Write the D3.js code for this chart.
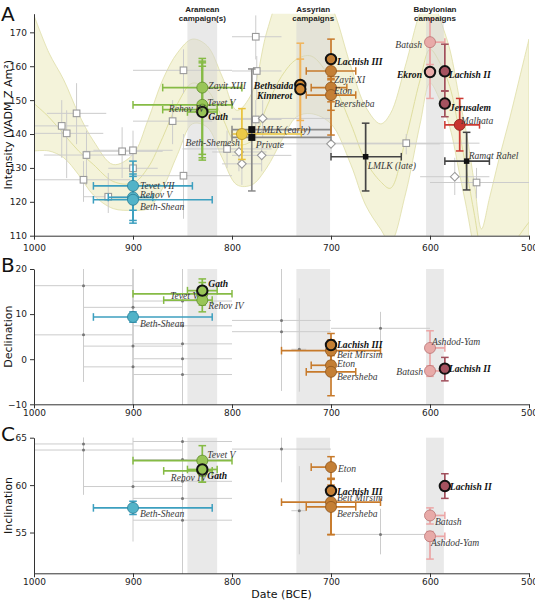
<!DOCTYPE html>
<html><head><meta charset="utf-8">
<script src="https://cdn.jsdelivr.net/npm/d3@7"></script>
<style>body{margin:0;background:#fff}</style>
</head><body>
<svg id="c" width="535" height="600" xmlns="http://www.w3.org/2000/svg"></svg>
<script>
// ---------------- DATA ----------------
const xTicks = [1000, 900, 800, 700, 600, 500];
const yTicksA = [110, 120, 130, 140, 150, 160, 170];
const yTicksB = [-10, 0, 10, 20];
const yTicksC = [55, 60, 65];

const campaigns = [
  {name: ["Aramean", "campaign(s)"], start: 845, end: 815},
  {name: ["Assyrian", "campaigns"], start: 735, end: 701},
  {name: ["Babylonian", "campaigns"], start: 604, end: 586}
];

// Intensity curve (band)
const bandYears = [1000, 985, 970, 955, 940, 920, 900, 885, 870, 855, 840, 825, 810, 795, 780, 765, 750, 735, 720, 700, 680, 665, 650, 640, 625, 610, 600, 590, 580, 570, 563, 555, 548, 540, 530, 520, 510, 500];
const bandUpper = [175, 164, 156, 146, 138, 131, 134, 144, 156, 164, 168, 166, 157, 147, 152, 170, 182, 186, 186, 178, 160, 148, 143, 146, 160, 176, 182, 174, 165, 150, 140, 125, 112, 121, 133, 144, 156, 168];
const bandMean  = [149, 145, 140, 135, 131, 126, 125.5, 130, 139, 149, 155, 153, 145, 137, 138, 148, 157, 162, 163, 156, 143, 132, 126, 124, 138, 156, 165, 161, 154, 140, 129, 116, 105, 100, 101, 105, 110, 114];
const bandLower = [135, 135, 133, 128, 122, 118, 117.5, 118, 124, 134, 143, 142, 133, 125, 125, 130, 138, 145, 146, 143, 131, 119, 112, 108, 122, 143, 155, 150, 142, 128, 118, 105, 95, 88, 83, 81, 82, 85];

// Intensity data (site, group, year, value, date range, value range)
const intensityPts = [
  {site: "Tevet VII", g: "teal", year: 900, v: 124.7, x0: 940, x1: 840, y0: 117.5, y1: 132},
  {site: "Rehov V", g: "teal", year: 900, v: 121.3, x0: 925, x1: 880, y0: 114.5, y1: 128.2},
  {site: "Beth-Shean", g: "teal", year: 900, v: 120.6, x0: 940, x1: 820, y0: 113.7, y1: 127.5},
  {site: "Zayit XIII", g: "green", year: 830, v: 153.7, x0: 870, x1: 790, y0: 145.5, y1: 162.3},
  {site: "Tevet V", g: "green", year: 830, v: 148.6, x0: 900, x1: 800, y0: 134, y1: 161.5},
  {site: "Rehov IV", g: "green", year: 830, v: 147.2, x0: 870, x1: 815, y0: 133, y1: 161},
  {site: "Gath", g: "green", year: 830, v: 146.5, x0: 845, x1: 815, y0: 132.3, y1: 160, bold: true},
  {site: "Beth-Shemesh", g: "yellow", year: 790, v: 140, x0: 800, x1: 730, y0: 132.5, y1: 147.5},
  {site: "LMLK (early)", g: "lmlk", year: 780, v: 141.3, x0: 800, x1: 700, y0: 123.2, y1: 159.2},
  {site: "Private", g: "lmlk", year: 780, v: 139, x0: 800, x1: 700},
  {site: "Bethsaida", g: "orangeLight", year: 731, v: 154.5, y0: 144, y1: 166.8, bold: true},
  {site: "Kinnerot", g: "orangeLight", year: 731, v: 153.2, y0: 141.2, y1: 162.1, bold: true},
  {site: "Lachish III", g: "orange", year: 700, v: 162.1, y0: 139.7, y1: 168, bold: true},
  {site: "Zayit XI", g: "orange", year: 700, v: 158.6, x0: 725, x1: 675, y0: 156.4, y1: 160.8},
  {site: "Eton", g: "orange", year: 700, v: 153.7, x0: 720, x1: 684, y0: 149.5, y1: 157},
  {site: "Beersheba", g: "orange", year: 700, v: 151.5, x0: 725, x1: 675, y0: 147, y1: 156},
  {site: "LMLK (late)", g: "black", year: 665, v: 133.3, x0: 700, x1: 629, y0: 123.2, y1: 143.2},
  {site: "Batash", g: "pink", year: 600, v: 167.1, x0: 600, x1: 585, y0: 160.5, y1: 174},
  {site: "Ekron", g: "pink", year: 600, v: 158.3, y0: 150.5, y1: 166, bold: true},
  {site: "Lachish II", g: "mauve", year: 585, v: 158.5, y0: 152.7, y1: 166.5, bold: true},
  {site: "Jerusalem", g: "mauve", year: 585, v: 149, y0: 145.1, y1: 152.7, bold: true},
  {site: "Malhata", g: "red", year: 570, v: 142.7, x0: 585, x1: 550, y0: 135, y1: 150.5},
  {site: "Ramat Rahel", g: "black", year: 563, v: 132, x0: 585, x1: 540, y0: 123.5, y1: 140.5}
];

const declinationPts = [
  {site: "Tevet V", g: "green", year: 830, v: 14.5, x0: 900, x1: 800, y0: 12, y1: 17},
  {site: "Rehov IV", g: "green", year: 830, v: 13.1, x0: 869, x1: 820, y0: 10.5, y1: 15.7},
  {site: "Gath", g: "green", year: 830, v: 15.2, x0: 845, x1: 815, y0: 12.5, y1: 17.8, bold: true},
  {site: "Beth-Shean", g: "teal", year: 900, v: 9.36, x0: 940, x1: 820, y0: 8.2, y1: 10.5},
  {site: "Beit Mirsim", g: "orange", year: 700, v: 1.9, x0: 750, x1: 650, y0: -0.5, y1: 4.3},
  {site: "Eton", g: "orange", year: 700, v: -1.35, x0: 720, x1: 700, y0: -3.5, y1: 0.8},
  {site: "Beersheba", g: "orange", year: 700, v: -2.8, x0: 725, x1: 675, y0: -8.1, y1: 2.5},
  {site: "Lachish III", g: "orange", year: 700, v: 3.15, y0: 1.5, y1: 5.7, bold: true},
  {site: "Ashdod-Yam", g: "pink", year: 600, v: 2.5, x0: 600, x1: 585, y0: -1.9, y1: 6.3},
  {site: "Batash", g: "pink", year: 600, v: -2.6, x0: 600, x1: 585, y0: -3.8, y1: -1.5},
  {site: "Lachish II", g: "mauve", year: 585, v: -2.1, y0: -4.8, y1: 0.4, bold: true}
];

const inclinationPts = [
  {site: "Tevet V", g: "green", year: 830, v: 62.58, x0: 900, x1: 800, y0: 61, y1: 64.16},
  {site: "Rehov IV", g: "green", year: 830, v: 61.5, x0: 869, x1: 820, y0: 60.3, y1: 62.8},
  {site: "Gath", g: "green", year: 830, v: 61.65, x0: 845, x1: 815, y0: 60.3, y1: 63, bold: true},
  {site: "Beth-Shean", g: "teal", year: 900, v: 57.6, x0: 940, x1: 820, y0: 56.9, y1: 58.3},
  {site: "Eton", g: "orange", year: 700, v: 61.9, x0: 720, x1: 700, y0: 60.7, y1: 63.0},
  {site: "Beit Mirsim", g: "orange", year: 700, v: 58.2, x0: 750, x1: 650, y0: 54.8, y1: 60.0},
  {site: "Beersheba", g: "orange", year: 700, v: 57.7, x0: 725, x1: 675, y0: 54.76, y1: 60.7},
  {site: "Lachish III", g: "orange", year: 700, v: 59.4, y0: 58.2, y1: 60.6, bold: true},
  {site: "Lachish II", g: "mauve", year: 585, v: 59.9, y0: 58.6, y1: 61.2, bold: true},
  {site: "Batash", g: "pink", year: 600, v: 56.8, x0: 600, x1: 585, y0: 55.9, y1: 57.6},
  {site: "Ashdod-Yam", g: "pink", year: 600, v: 54.6, x0: 600, x1: 585, y0: 52.2, y1: 55.1}
];

// comparison (grey) data
const refIntensity = [
  {type: "s", year: 957, v: 146.1, x0: 987, x1: 927, y0: 137, y1: 155},
  {type: "s", year: 972, v: 142.4, x0: 1000, x1: 945, y0: 133, y1: 150},
  {type: "s", year: 967, v: 140.2, x0: 1000, x1: 930, y0: 127, y1: 147},
  {type: "s", year: 947, v: 133.8, x0: 990, x1: 900, y0: 125, y1: 141},
  {type: "s", year: 950, v: 126.5, x0: 1000, x1: 903, y0: 120, y1: 132},
  {type: "s", year: 925, v: 121.5, x0: 950, x1: 880, y0: 116.7, y1: 128.5},
  {type: "s", year: 911, v: 134.9, x0: 950, x1: 870, y0: 127, y1: 142},
  {type: "s", year: 900, v: 135.2, x0: 940, x1: 860, y0: 128, y1: 141},
  {type: "s", year: 900, v: 129.9, x0: 925, x1: 875, y0: 124, y1: 135},
  {type: "s", year: 849, v: 158.8, x0: 900, x1: 800, y0: 152, y1: 165},
  {type: "s", year: 849, v: 127.7, x0: 900, x1: 800, y0: 115, y1: 140},
  {type: "s", year: 860, v: 143.8, x0: 900, x1: 820, y0: 137, y1: 150},
  {type: "s", year: 776, v: 168.7, x0: 800, x1: 750, y0: 162, y1: 175},
  {type: "s", year: 775, v: 158.6, x0: 800, x1: 750, y0: 150, y1: 163},
  {type: "s", year: 776, v: 144.3, x0: 800, x1: 750, y0: 138, y1: 150},
  {type: "s", year: 805, v: 135.6, x0: 850, x1: 760, y0: 130, y1: 141},
  {type: "d", year: 769, v: 144.6, x0: 800, x1: 700, y0: 139, y1: 150},
  {type: "d", year: 793, v: 134.7, x0: 820, x1: 765, y0: 129, y1: 140},
  {type: "d", year: 790, v: 131.2, x0: 810, x1: 770, y0: 125, y1: 137},
  {type: "d", year: 770, v: 133.7, x0: 800, x1: 740, y0: 129, y1: 138},
  {type: "d", year: 700, v: 137.1, x0: 775, x1: 590, y0: 134, y1: 140},
  {type: "s", year: 624, v: 137.3, x0: 700, x1: 550, y0: 134, y1: 140},
  {type: "d", year: 575, v: 127.4, x0: 610, x1: 540, y0: 122, y1: 133},
  {type: "s", year: 553, v: 125.7, x0: 600, x1: 500, y0: 121, y1: 130}
];

const refDeclination = [
  {year: 950, v: 16.3, x0: 1000, x1: 900, y0: -5, y1: 20},
  {year: 950, v: 5.4, x0: 1000, x1: 900, y0: -5, y1: 20},
  {year: 900, v: 11.5, x0: 950, x1: 850, y0: -10, y1: 20},
  {year: 900, v: 2.9, x0: 950, x1: 850, y0: -10, y1: 20},
  {year: 900, v: -1.7, x0: 950, x1: 850, y0: -10, y1: 20},
  {year: 850, v: 12.9, x0: 900, x1: 800, y0: -10, y1: 20},
  {year: 850, v: 7.4, x0: 900, x1: 800, y0: -10, y1: 20},
  {year: 850, v: 3.4, x0: 900, x1: 800, y0: -10, y1: 20},
  {year: 850, v: 0.1, x0: 900, x1: 800, y0: -10, y1: 20},
  {year: 850, v: -3.4, x0: 900, x1: 800, y0: -10, y1: 20},
  {year: 750, v: 8.6, x0: 800, x1: 700, y0: -7, y1: 20},
  {year: 750, v: 6.1, x0: 800, x1: 700, y0: -7, y1: 20},
  {year: 650, v: 6.85, x0: 700, x1: 600, y0: 2.8, y1: 10.5},
  {year: 732, v: 2.2, x0: 740, x1: 725, y0: -7.2, y1: 13.5}
];

const refInclination = [
  {year: 950, v: 64.34, x0: 1000, x1: 900, y0: 59, y1: 65},
  {year: 950, v: 63.7, x0: 1000, x1: 850, y0: 59, y1: 65},
  {year: 900, v: 59.85, x0: 950, x1: 850, y0: 54.05, y1: 65},
  {year: 850, v: 64.6, x0: 900, x1: 800, y0: 50.7, y1: 65},
  {year: 850, v: 62.7, x0: 900, x1: 800, y0: 50.7, y1: 65},
  {year: 850, v: 60.4, x0: 900, x1: 800, y0: 50.7, y1: 65},
  {year: 850, v: 58.6, x0: 900, x1: 800, y0: 50.7, y1: 65},
  {year: 850, v: 56.3, x0: 900, x1: 800, y0: 50.7, y1: 65},
  {year: 750, v: 63.8, x0: 800, x1: 700, y0: 60.3, y1: 65},
  {year: 732, v: 57.3, x0: 740, x1: 725, y0: 52.7, y1: 62},
  {year: 650, v: 54.8, x0: 700, x1: 600, y0: 52.7, y1: 57.5}
];

// ---------------- STYLE ----------------
const colors = {
  teal:        {fill: "#52b3c8", line: "#3c9fbf", stroke: "#2a7d96"},
  green:       {fill: "#99c557", line: "#86bb45", stroke: "#5d8a2a"},
  yellow:      {fill: "#ecca48", line: "#e8c23a", stroke: "#b8941e"},
  lmlk:        {fill: "#111111", line: "#8a8a8a", stroke: "#111"},
  black:       {fill: "#111111", line: "#444444", stroke: "#111"},
  orange:      {fill: "#c47f35", line: "#c77a2b", stroke: "#8e561e"},
  orangeLight: {fill: "#d08a35", line: "#f0b45a", stroke: "#111"},
  pink:        {fill: "#e8aaa8", line: "#eba5a5", stroke: "#b97474"},
  mauve:       {fill: "#a5525f", line: "#a14f5c", stroke: "#6d2e38"},
  red:         {fill: "#c8342f", line: "#cc3a33", stroke: "#8a1f1b"}
};

const labelA = {
  "Tevet VII": [7, 3, "start"], "Rehov V": [7, 1, "start"], "Beth-Shean": [7, 10, "start"],
  "Zayit XIII": [6, 1, "start"], "Tevet V": [5, 1, "start"], "Rehov IV": [2, 2, "end"],
  "Gath": [6, 8, "start"], "Beth-Shemesh": [-2, 12, "end"], "LMLK (early)": [5, 3, "start"],
  "Private": [4, 11, "start"], "Bethsaida": [-7, 4, "end"], "Kinnerot": [-8, 10, "end"],
  "Lachish III": [6, 6, "start"], "Zayit XI": [3, 12, "start"], "Eton": [3, 6, "start"],
  "Beersheba": [3, 12, "start"], "LMLK (late)": [2, 12, "start"], "Batash": [-8, 6, "end"],
  "Ekron": [-8, 6, "end"], "Lachish II": [4, 7, "start"], "Jerusalem": [5, 7, "start"],
  "Malhata": [1, -1, "start"], "Ramat Rahel": [2, -2, "start"]
};
const labelB = {
  "Gath": [6, -4, "start"], "Tevet V": [-4, 5, "end"], "Rehov IV": [6, 9, "start"],
  "Beth-Shean": [7, 10, "start"], "Lachish III": [6, 3, "start"], "Beit Mirsim": [6, 7, "start"],
  "Eton": [6, 2, "start"], "Beersheba": [6, 8, "start"], "Ashdod-Yam": [2, -3, "start"],
  "Batash": [-7, 4, "end"], "Lachish II": [4, 3, "start"]
};
const labelC = {
  "Tevet V": [5, -3, "start"], "Rehov IV": [4, 10, "end"], "Gath": [5, 10, "start"],
  "Beth-Shean": [7, 9, "start"], "Eton": [7, 5, "start"], "Lachish III": [6, 4, "start"],
  "Beit Mirsim": [6, -1, "start"], "Beersheba": [6, 10, "start"], "Lachish II": [5, 4, "start"],
  "Batash": [5, 10, "start"], "Ashdod-Yam": [1, 10, "start"]
};

// ---------------- DRAW ----------------
const svg = d3.select("#c");
const x = d3.scaleLinear().domain([1000, 500]).range([34, 529]);

const panels = [
  {key: "A", y: d3.scaleLinear().domain([110, 175.5]).range([235.7, 13.7]), ticks: yTicksA, minor: 2,
   title: "Intensity (VADM Z Am²)", pts: intensityPts, refs: refIntensity, labels: labelA,
   shadeTop: 21, letterY: 21, tickLabelDy: 15},
  {key: "B", y: d3.scaleLinear().domain([-10, 20]).range([404.3, 269]), ticks: yTicksB, minor: 2,
   title: "Declination", pts: declinationPts, refs: refDeclination, labels: labelB,
   shadeTop: 269, letterY: 272, tickLabelDy: 12},
  {key: "C", y: d3.scaleLinear().domain([50.7, 65]).range([573.3, 437.7]), ticks: yTicksC, minor: 1,
   title: "Inclination", pts: inclinationPts, refs: refInclination, labels: labelC,
   shadeTop: 437.7, letterY: 441, tickLabelDy: 12}
];

svg.append("defs").append("clipPath").attr("id", "clipA")
  .append("rect").attr("x", 34).attr("y", 13.7).attr("width", 495).attr("height", 222);

panels.forEach(p => {
  const y = p.y;
  const g = svg.append("g");
  const yBottom = y.range()[0];

  // band (panel A)
  if (p.key === "A") {
    const bd = bandYears.map((yr, i) => ({yr, lo: bandLower[i], hi: bandUpper[i], m: bandMean[i]}));
    const cg = g.append("g").attr("clip-path", "url(#clipA)");
    cg.append("path").datum(bd)
      .attr("d", d3.area().x(d => x(d.yr)).y0(d => y(d.lo)).y1(d => y(d.hi)).curve(d3.curveCatmullRom.alpha(0.5)))
      .attr("fill", "#f4f3da").attr("stroke", "#dedda6").attr("stroke-width", 0.8);
    cg.append("path").datum(bd)
      .attr("d", d3.line().x(d => x(d.yr)).y(d => y(d.m)).curve(d3.curveCatmullRom.alpha(0.5)))
      .attr("fill", "none").attr("stroke", "#dcdb98").attr("stroke-width", 0.9);
  }

  // campaign shading
  campaigns.forEach(c => {
    g.append("rect").attr("x", x(c.start)).attr("width", x(c.end) - x(c.start))
      .attr("y", p.shadeTop).attr("height", yBottom - p.shadeTop)
      .attr("fill", "#d4d4d4").attr("opacity", 0.5);
  });

  // reference data
  const rg = g.append("g");
  p.refs.forEach(d => {
    rg.append("line").attr("x1", x(d.x0)).attr("x2", x(d.x1)).attr("y1", y(d.v)).attr("y2", y(d.v))
      .attr("stroke", "#cccccc").attr("stroke-width", 1);
    const ya = Math.max(d.y0, y.domain()[0]), yb = Math.min(d.y1, y.domain()[1]);
    rg.append("line").attr("x1", x(d.year)).attr("x2", x(d.year)).attr("y1", y(ya)).attr("y2", y(yb))
      .attr("stroke", "#cccccc").attr("stroke-width", 1);
  });
  p.refs.forEach(d => {
    const cx = x(d.year), cy = y(d.v);
    if (p.key === "A") {
      if (d.type === "s") {
        rg.append("rect").attr("x", cx - 3.3).attr("y", cy - 3.3).attr("width", 6.6).attr("height", 6.6)
          .attr("fill", "#fff").attr("stroke", "#9a9a9a").attr("stroke-width", 1.1);
      } else {
        rg.append("path").attr("d", `M${cx},${cy - 4.3}L${cx + 4.3},${cy}L${cx},${cy + 4.3}L${cx - 4.3},${cy}Z`)
          .attr("fill", "#fff").attr("stroke", "#9a9a9a").attr("stroke-width", 1.1);
      }
    } else {
      rg.append("circle").attr("cx", cx).attr("cy", cy).attr("r", 1.5).attr("fill", "#777");
    }
  });

  // error bars
  const eg = g.append("g");
  const cap = 3.8;
  p.pts.forEach(d => {
    const col = colors[d.g].line;
    const cy = y(d.v), cx = x(d.year);
    if (d.x0 !== undefined) {
      const xa = x(d.x0), xb = x(d.x1);
      eg.append("line").attr("x1", xa).attr("x2", xb).attr("y1", cy).attr("y2", cy).attr("stroke", col).attr("stroke-width", 1.7);
      [xa, xb].forEach(xx => { if (Math.abs(xx - cx) > 0.5)
        eg.append("line").attr("x1", xx).attr("x2", xx).attr("y1", cy - cap).attr("y2", cy + cap).attr("stroke", col).attr("stroke-width", 1.5); });
    }
    if (d.y0 !== undefined) {
      const ya = y(d.y0), yb = y(d.y1);
      eg.append("line").attr("x1", cx).attr("x2", cx).attr("y1", ya).attr("y2", yb).attr("stroke", col).attr("stroke-width", 1.7);
      [ya, yb].forEach(yy => eg.append("line").attr("x1", cx - cap).attr("x2", cx + cap).attr("y1", yy).attr("y2", yy).attr("stroke", col).attr("stroke-width", 1.5));
    }
  });

  // markers
  const mg = g.append("g");
  p.pts.forEach(d => {
    const cx = x(d.year), cy = y(d.v), c = colors[d.g];
    if (d.g === "lmlk" || d.g === "black") {
      const s = d.g === "lmlk" ? 7 : 5.5;
      mg.append("rect").attr("x", cx - s / 2).attr("y", cy - s / 2).attr("width", s).attr("height", s).attr("fill", "#111");
    } else {
      mg.append("circle").attr("cx", cx).attr("cy", cy).attr("r", d.bold ? 5.2 : 5.5)
        .attr("fill", c.fill).attr("stroke", d.bold ? "#111" : c.stroke).attr("stroke-width", d.bold ? 2 : 0.8);
    }
  });

  // labels
  const lg = g.append("g");
  p.pts.forEach(d => {
    const o = p.labels[d.site];
    lg.append("text").attr("x", x(d.year) + o[0]).attr("y", y(d.v) + o[1]).attr("text-anchor", o[2])
      .attr("font-family", "'Liberation Serif', 'Times New Roman', serif").attr("font-style", "italic")
      .attr("font-weight", d.bold ? "bold" : "normal").attr("font-size", "9.6px")
      .attr("fill", d.bold ? "#111" : "#3a3a3a").text(d.site);
  });

  // axes
  const ax = g.append("g").attr("transform", `translate(0,${yBottom})`);
  ax.call(d3.axisBottom(x).tickValues(d3.range(1000, 499, -10)).tickSize(2).tickFormat(""));
  ax.call(d3.axisBottom(x).tickValues(xTicks).tickSize(4).tickFormat(d3.format("d")).tickSizeOuter(0));
  const ay = g.append("g").attr("transform", "translate(34,0)");
  ay.call(d3.axisLeft(y).tickValues(d3.range(y.domain()[0] < 51 ? 51 : y.domain()[0], y.domain()[1] + 0.01, p.minor)).tickSize(2).tickFormat(""));
  ay.call(d3.axisLeft(y).tickValues(p.ticks).tickSize(4).tickSizeOuter(0));
  [ax, ay].forEach(a => {
    a.selectAll("path.domain").attr("stroke", "#333").attr("stroke-width", 1);
    a.selectAll("line").attr("stroke", "#333");
    a.selectAll("text").attr("font-family", "'DejaVu Sans', sans-serif").attr("font-size", "9px").attr("fill", "#222");
  });
  ax.selectAll("text").attr("dy", null).attr("y", p.tickLabelDy);

  // y title
  const yc = (y.range()[0] + y.range()[1]) / 2;
  g.append("text").attr("transform", `translate(12,${yc}) rotate(-90)`).attr("text-anchor", "middle")
    .attr("font-family", "'DejaVu Sans', sans-serif").attr("font-size", "11px").attr("fill", "#111").text(p.title);

  // panel letter
  g.append("text").attr("x", 1).attr("y", p.letterY).attr("font-family", "'DejaVu Sans', sans-serif")
    .attr("font-size", "20px").attr("fill", "#111").text(p.key);
});

// campaign labels (above panel A)
campaigns.forEach(c => {
  const t = svg.append("text").attr("x", (x(c.start) + x(c.end)) / 2).attr("text-anchor", "middle")
    .attr("font-family", "'Liberation Sans', Arial, sans-serif").attr("font-weight", "bold")
    .attr("font-size", "8px").attr("fill", "#222");
  t.append("tspan").attr("x", (x(c.start) + x(c.end)) / 2).attr("y", 11.5).text(c.name[0]);
  t.append("tspan").attr("x", (x(c.start) + x(c.end)) / 2).attr("y", 21).text(c.name[1]);
});

// x title
svg.append("text").attr("x", (x(1000) + x(500)) / 2).attr("y", 598).attr("text-anchor", "middle")
  .attr("font-family", "'DejaVu Sans', sans-serif").attr("font-size", "11px").attr("fill", "#111").text("Date (BCE)");
</script>
</body></html>
